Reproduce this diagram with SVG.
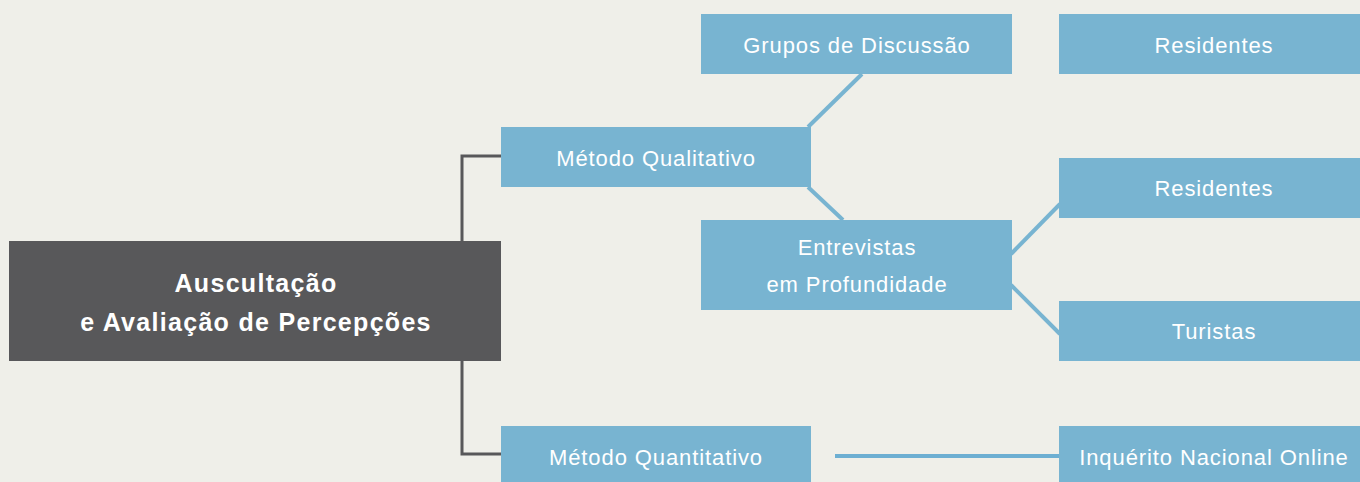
<svg xmlns="http://www.w3.org/2000/svg" width="1360" height="482" viewBox="0 0 1360 482">
<style>
.bg{fill:#efefe9}
.box{fill:#78b4d1}
.main{fill:#58585a}
.t{font-family:"Liberation Sans",Arial,sans-serif;font-size:22px;letter-spacing:0.9px;fill:#ffffff;text-anchor:middle}
.tb{font-family:"Liberation Sans",Arial,sans-serif;font-size:25px;letter-spacing:1.3px;font-weight:bold;fill:#ffffff;text-anchor:middle}
.gl{fill:none;stroke:#58585a;stroke-width:3}
.bl{fill:none;stroke:#78b4d1;stroke-width:4}
</style>
<rect class="bg" x="0" y="0" width="1360" height="482"/>
<g id="connectors">
<path class="gl" d="M462 241 V156 H501"/>
<path class="gl" d="M462 361 V454 H501"/>
<line class="bl" x1="808" y1="127" x2="862" y2="74"/>
<line class="bl" x1="808" y1="187" x2="843" y2="220"/>
<line class="bl" x1="1011" y1="254" x2="1060" y2="204"/>
<line class="bl" x1="1011" y1="285" x2="1060" y2="334"/>
<line class="bl" x1="835" y1="456" x2="1060" y2="456" style="stroke:#6dafd2"/>
</g>
<g id="main">
<rect class="main" x="9" y="241" width="492" height="120"/>
<text class="tb" x="256" y="292">Auscultação</text>
<text class="tb" x="256" y="331">e Avaliação de Percepções</text>
</g>
<g id="qualitativo">
<rect class="box" x="501" y="127" width="310" height="60"/>
<text class="t" x="656" y="166">Método Qualitativo</text>
</g>
<g id="quantitativo">
<rect class="box" x="501" y="426" width="310" height="56"/>
<text class="t" x="656" y="465">Método Quantitativo</text>
</g>
<g id="grupos">
<rect class="box" x="701" y="14" width="311" height="60"/>
<text class="t" x="857" y="53">Grupos de Discussão</text>
</g>
<g id="entrevistas">
<rect class="box" x="701" y="220" width="311" height="90"/>
<text class="t" x="857" y="255">Entrevistas</text>
<text class="t" x="857" y="292">em Profundidade</text>
</g>
<g id="residentes1">
<rect class="box" x="1059" y="14" width="301" height="60"/>
<text class="t" x="1214" y="53">Residentes</text>
</g>
<g id="residentes2">
<rect class="box" x="1059" y="158" width="301" height="60"/>
<text class="t" x="1214" y="196">Residentes</text>
</g>
<g id="turistas">
<rect class="box" x="1059" y="301" width="301" height="60"/>
<text class="t" x="1214" y="339">Turistas</text>
</g>
<g id="inquerito">
<rect class="box" x="1059" y="426" width="301" height="56"/>
<text class="t" x="1214" y="465">Inquérito Nacional Online</text>
</g>
</svg>
